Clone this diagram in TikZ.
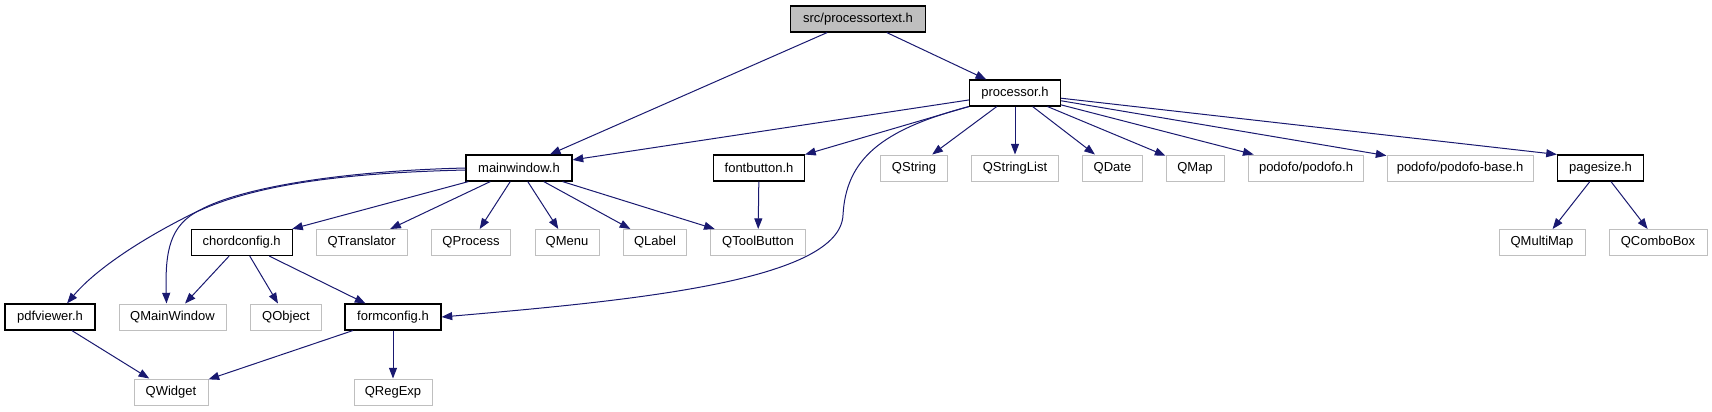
\documentclass[tikz,border=0pt]{standalone}
\usepackage{fontspec}
\setmainfont{Liberation Sans}
\usetikzlibrary{arrows.meta,calc}
\definecolor{edgeblue}{HTML}{191970}
\definecolor{greyb}{HTML}{BFBFBF}
\tikzset{
  box/.style={rectangle, minimum height=19.5pt, inner sep=0pt, font=\fontsize{9.75pt}{11pt}\selectfont, text=black},
  docbox/.style={box, draw=black, line width=0.85pt, fill=white},
  extbox/.style={box, draw=greyb, line width=0.75pt, fill=white},
  rootbox/.style={box, draw=black, line width=0.85pt, fill=greyb},
  edge/.style={draw=edgeblue, line width=0.75pt, -{Triangle[length=8pt,width=6pt]}},
}
\begin{document}
\begin{tikzpicture}[x=0.75pt,y=-0.75pt]
\useasboundingbox (0,0) rectangle (1712,411);
% row 1
\node[rootbox, minimum width=101.25pt] (root) at (858,19) {src/processortext.h};
% row 2
\node[docbox, minimum width=68.25pt] (processor) at (1015,93) {processor.h};
% row 3
\node[docbox, minimum width=79.5pt] (mainwindow) at (519,168) {mainwindow.h};
\node[docbox, minimum width=68.25pt] (fontbutton) at (759,168) {fontbutton.h};
\node[extbox, minimum width=50.25pt] (qstring) at (914,168) {QString};
\node[extbox, minimum width=65.25pt] (qstringlist) at (1015,168) {QStringList};
\node[extbox, minimum width=45pt] (qdate) at (1112.5,168) {QDate};
\node[extbox, minimum width=43.5pt] (qmap) at (1195,168) {QMap};
\node[extbox, minimum width=86.25pt] (podofo) at (1306,168) {podofo/podofo.h};
\node[extbox, minimum width=109.5pt] (podofobase) at (1460,168) {podofo/podofo-base.h};
\node[docbox, minimum width=64.5pt] (pagesize) at (1600.5,168) {pagesize.h};
% row 4
\node[docbox, minimum width=75.75pt] (chordconfig) at (241.7,242.5) {chordconfig.h};
\node[extbox, minimum width=68.25pt] (qtranslator) at (361.7,242.5) {QTranslator};
\node[extbox, minimum width=59.25pt] (qprocess) at (471,242.5) {QProcess};
\node[extbox, minimum width=48pt] (qmenu) at (567,242.5) {QMenu};
\node[extbox, minimum width=47.25pt] (qlabel) at (655,242.5) {QLabel};
\node[extbox, minimum width=71.25pt] (qtoolbutton) at (758,242.5) {QToolButton};
\node[extbox, minimum width=64.5pt] (qmultimap) at (1542,242.5) {QMultiMap};
\node[extbox, minimum width=73.5pt] (qcombobox) at (1658,242.5) {QComboBox};
% row 5
\node[docbox, minimum width=67.5pt] (pdfviewer) at (50,317) {pdfviewer.h};
\node[extbox, minimum width=80.25pt] (qmainwindow) at (172.5,317) {QMainWindow};
\node[extbox, minimum width=53.25pt] (qobject) at (286,317) {QObject};
\node[docbox, minimum width=72pt] (formconfig) at (393,317) {formconfig.h};
% row 6
\node[extbox, minimum width=55.5pt] (qwidget) at (171,392) {QWidget};
\node[extbox, minimum width=58.5pt] (qregexp) at (393,392) {QRegExp};

% edges from root
\draw[edge] (root) -- (mainwindow);
\draw[edge] (root) -- (processor);
% edges from processor
\draw[edge] (processor) -- (mainwindow);
\draw[edge] (processor) -- (fontbutton);
\draw[edge] (processor.south west) .. controls (880,130) and (846,160) .. (843,215)
  .. controls (840,280) and (640,300) .. (formconfig.east);
\draw[edge] (processor) -- (qstring);
\draw[edge] (processor) -- (qstringlist);
\draw[edge] (processor) -- (qdate);
\draw[edge] (processor) -- (qmap);
\draw[edge] (processor) -- (podofo);
\draw[edge] (processor) -- (podofobase);
\draw[edge] (processor) -- (pagesize.north west);
% edges from mainwindow
\draw[edge] ([yshift=-1.5pt]mainwindow.west) .. controls (340,173) and (250,185) .. (190,215)
  .. controls (140,240) and (95,270) .. ([xshift=12.75pt]pdfviewer.north);
\draw[edge] (mainwindow.west) .. controls (340,171) and (240,188) .. (200,210)
  .. controls (170,225) and (165,250) .. ([xshift=-4.5pt]qmainwindow.north);
\draw[edge] (mainwindow) -- (chordconfig);
\draw[edge] (mainwindow) -- (qtranslator);
\draw[edge] (mainwindow) -- (qprocess);
\draw[edge] (mainwindow) -- (qmenu);
\draw[edge] (mainwindow) -- (qlabel);
\draw[edge] (mainwindow) -- (qtoolbutton);
% fontbutton
\draw[edge] (fontbutton) -- (qtoolbutton);
% chordconfig
\draw[edge] (chordconfig) -- (qmainwindow);
\draw[edge] (chordconfig) -- (qobject);
\draw[edge] (chordconfig) -- (formconfig);
% pdfviewer
\draw[edge] (pdfviewer) -- (qwidget);
% formconfig
\draw[edge] (formconfig) -- (qwidget);
\draw[edge] (formconfig) -- (qregexp);
% pagesize
\draw[edge] (pagesize) -- (qmultimap);
\draw[edge] (pagesize) -- (qcombobox);
\end{tikzpicture}
\end{document}
